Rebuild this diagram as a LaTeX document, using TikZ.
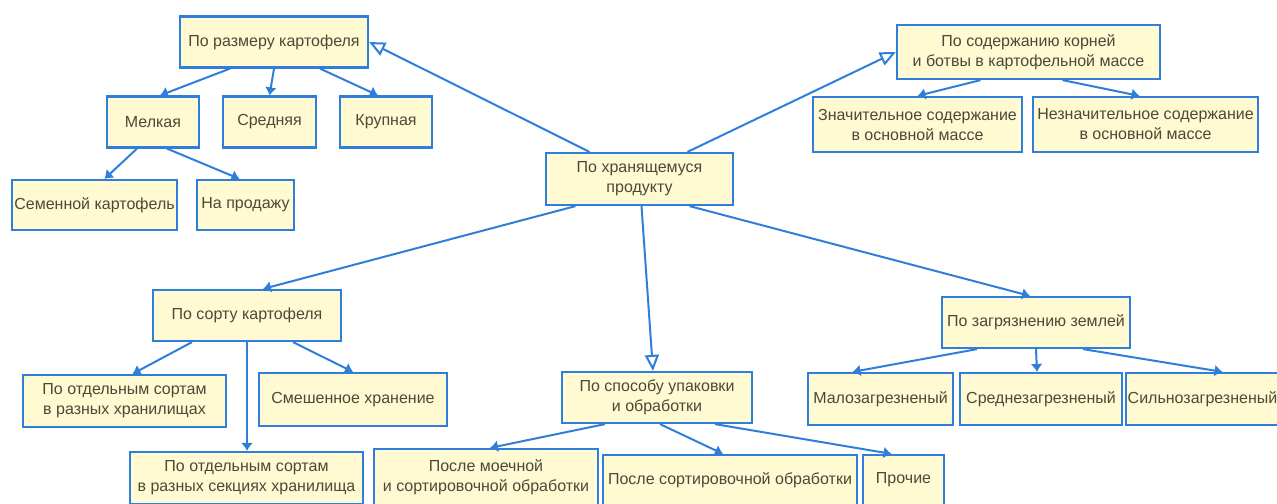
\documentclass[tikz,border=0pt]{standalone}
\usepackage{fontspec}
\setmainfont{Liberation Sans}
\usetikzlibrary{positioning, arrows.meta}
\definecolor{boxfill}{HTML}{FFFAD2}
\definecolor{boxline}{HTML}{2F7FDA}
\definecolor{boxtext}{HTML}{4A4A38}

\begin{document}
\begin{tikzpicture}[
            x=0.5pt, y=-0.5pt,
            box/.style={draw=boxline, line width=1.1pt, fill=boxfill, text=boxtext,
                align=center, inner sep=1pt, font=\fontsize{8}{10}\selectfont},
            sub arrow/.style={draw=boxline, line width=1pt, -{Latex[length=4pt, width=6pt]}},
            open arrow/.style={draw=boxline, line width=1pt, -{Triangle[open, fill=white, length=8pt, width=7pt]}}
        ]

            \clip (0,0) rectangle (1277,503);

            % --- Centre ---
            \node[box, minimum width=93.5pt, minimum height=26pt] (root) at (639.5,179) {По хранящемуся\\продукту};

            % --- Size branch ---
            \node[box, minimum width=94pt, minimum height=25.5pt] (size) at (274,42) {По размеру картофеля};
            \node[box, minimum width=46pt, minimum height=25.5pt] (mel) at (153,122) {Мелкая};
            \node[box, minimum width=46.5pt, minimum height=25.5pt] (sred) at (269.5,122) {Средняя};
            \node[box, minimum width=46pt, minimum height=25.5pt] (krup) at (386,122) {Крупная};
            \node[box, minimum width=82.5pt, minimum height=25pt] (semen) at (94.5,205) {Семенной картофель};
            \node[box, minimum width=48.5pt, minimum height=25pt] (prod) at (245.5,205) {На продажу};

            % --- Roots and tops branch ---
            \node[box, minimum width=131.5pt, minimum height=27pt] (cont) at (1028.5,52) {По содержанию корней\\и ботвы в картофельной массе};
            \node[box, minimum width=104.5pt, minimum height=27.5pt] (znach) at (917.5,124.5) {Значительное содержание\\в основной массе};
            \node[box, minimum width=112.5pt, minimum height=27.5pt] (neznach) at (1145.5,124.5) {Незначительное содержание\\в основной массе};

            % --- Variety branch ---
            \node[box, minimum width=94pt, minimum height=25.5pt] (sort) at (247,315.5) {По сорту картофеля};
            \node[box, minimum width=101.5pt, minimum height=26pt] (otdhr) at (124.5,401) {По отдельным сортам\\в разных хранилищах};
            \node[box, minimum width=94pt, minimum height=26.5pt] (smesh) at (353,399.5) {Смешенное хранение};
            \node[box, minimum width=116.5pt, minimum height=26pt] (otdsek) at (246.5,478) {По отдельным сортам\\в разных секциях хранилища};

            % --- Packing branch ---
            \node[box, minimum width=95pt, minimum height=25.5pt] (pack) at (657,397.5) {По способу упаковки\\и обработки};
            \node[box, minimum width=112pt, minimum height=28pt] (moech) at (486,477) {После моечной\\и сортировочной обработки};
            \node[box, minimum width=127pt, minimum height=25pt] (sortobr) at (730,480) {После сортировочной обработки};
            \node[box, minimum width=40.5pt, minimum height=25pt] (proch) at (903.5,480) {Прочие};

            % --- Soil branch ---
            \node[box, minimum width=94pt, minimum height=25.5pt] (dirt) at (1036,322.5) {По загрязнению землей};
            \node[box, minimum width=72.5pt, minimum height=26pt] (malo) at (880.5,399) {Малозагрезненый};
            \node[box, minimum width=81pt, minimum height=26pt] (sredz) at (1041,399) {Среднезагрезненый};
            \node[box, minimum width=72.5pt, minimum height=26pt] (silno) at (1202.5,399) {Сильнозагрезненый};

            % --- Arrows from the centre ---
            \draw[open arrow] ([xshift=-25pt]root.north) -- (size.east);
            \draw[open arrow] ([xshift=24pt]root.north) -- (cont.west);
            \draw[sub arrow] ([xshift=-32pt]root.south) -- ([xshift=8pt]sort.north);
            \draw[open arrow] ([xshift=1pt]root.south) -- ([xshift=-2pt]pack.north);
            \draw[sub arrow] ([xshift=25pt]root.south) -- ([xshift=-3pt]dirt.north);

            % --- Arrows inside the branches ---
            \draw[sub arrow] ([xshift=-22pt]size.south) -- ([xshift=3.5pt]mel.north);
            \draw[sub arrow] (size.south) -- (sred.north);
            \draw[sub arrow] ([xshift=23pt]size.south) -- ([xshift=-4pt]krup.north);
            \draw[sub arrow] ([xshift=-8pt]mel.south) -- ([xshift=5pt]semen.north);
            \draw[sub arrow] ([xshift=7pt]mel.south) -- ([xshift=-3pt]prod.north);

            \draw[sub arrow] ([xshift=-24pt]cont.south) -- (znach.north);
            \draw[sub arrow] ([xshift=17pt]cont.south) -- ([xshift=-3pt]neznach.north);

            \draw[sub arrow] ([xshift=-27.5pt]sort.south) -- ([xshift=4pt]otdhr.north);
            \draw[sub arrow] (sort.south) -- (sort.south |- otdsek.north);
            \draw[sub arrow] ([xshift=23pt]sort.south) -- (smesh.north);

            \draw[sub arrow] ([xshift=-26pt]pack.south) -- ([xshift=2pt]moech.north);
            \draw[sub arrow] ([xshift=1.5pt]pack.south) -- ([xshift=-3.5pt]sortobr.north);
            \draw[sub arrow] ([xshift=29pt]pack.south) -- ([xshift=-6pt]proch.north);

            \draw[sub arrow] ([xshift=-29.5pt]dirt.south) -- ([xshift=-14pt]malo.north);
            \draw[sub arrow] (dirt.south) -- ([xshift=-2pt]sredz.north);
            \draw[sub arrow] ([xshift=23.5pt]dirt.south) -- ([xshift=10pt]silno.north);

        \end{tikzpicture}
\end{document}
